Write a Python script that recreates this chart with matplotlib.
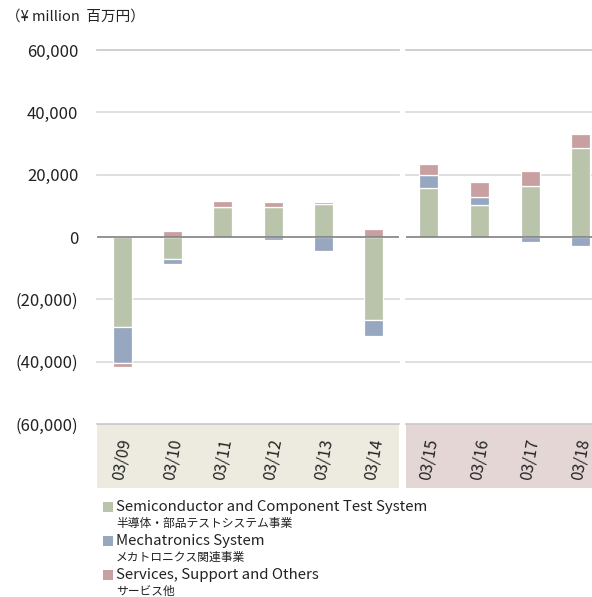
import numpy as np
import matplotlib
matplotlib.use("Agg")
import matplotlib.pyplot as plt
from matplotlib.patches import Rectangle
import matplotlib.transforms as mtransforms

plt.rcParams["font.family"] = ["Noto Sans CJK JP", "DejaVu Sans"]

# data (¥ million)
years_left = ["03/09", "03/10", "03/11", "03/12", "03/13", "03/14"]
years_right = ["03/15", "03/16", "03/17", "03/18"]
semi = [-28900, -7000, 9600, 9600, 10700, -26700, 15600, 10200, 16400, 28600]
mech = [-11600, -1700, 0, -1100, -4500, -5200, 4200, 2600, -1500, -2800]
serv = [-1100, 1800, 2000, 1600, 500, 2700, 3500, 5000, 4800, 4300]

series_en = ["Semiconductor and Component Test System", "Mechatronics System",
             "Services, Support and Others"]
series_jp = ["半導体・部品テストシステム事業", "メカトロニクス関連事業", "サービス他"]
colors = ["#BAC4AB", "#97A7C0", "#C9A0A1"]
yticks = [60000, 40000, 20000, 0, -20000, -40000, -60000]

W, H = 592, 597
fig = plt.figure(figsize=(W / 100, H / 100), dpi=100)

y_top, y_bot = 50, 424
band_bot = 488
ax_l = fig.add_axes([97 / W, 1 - y_bot / H, 302 / W, (y_bot - y_top) / H])
ax_r = fig.add_axes([406 / W, 1 - y_bot / H, 186 / W, (y_bot - y_top) / H])


def draw(ax, idx, labels, band_color):
    pos_bottom = np.zeros(len(idx))
    neg_bottom = np.zeros(len(idx))
    x = np.arange(len(idx))
    for vals, c in zip([semi, mech, serv], colors):
        v = np.array([vals[i] for i in idx], dtype=float)
        bottom = np.where(v >= 0, pos_bottom, neg_bottom)
        ax.bar(x, v, bottom=bottom, width=0.38, color=c, edgecolor="white",
               linewidth=0.9, zorder=3)
        pos_bottom += np.where(v >= 0, v, 0)
        neg_bottom += np.where(v < 0, v, 0)
    ax.set_ylim(-60000, 60000)
    for t in yticks:
        if t == 0:
            ax.axhline(t, color="#808080", lw=1.2, zorder=4)
        else:
            ax.axhline(t, color="#C8C8C8" if t in (60000, -60000) else "#D9D9D9",
                       lw=1.2, zorder=1, clip_on=False)
    for s in ax.spines.values():
        s.set_visible(False)
    ax.set_xticks([])
    ax.tick_params(axis="y", length=0)
    # label band under the plot
    band_h = (band_bot - y_bot) / (y_bot - y_top)
    ax.add_patch(Rectangle((0, -band_h), 1, band_h, transform=ax.transAxes,
                           facecolor=band_color, edgecolor="none",
                           clip_on=False, zorder=0))
    trans = mtransforms.blended_transform_factory(ax.transData, ax.transAxes)
    for i, lab in enumerate(labels):
        ax.text(i, -band_h / 2 - 0.008, lab, transform=trans, rotation=80,
                style="italic", fontsize=11.5, ha="center", va="center",
                color="#222222")


draw(ax_l, range(0, 6), years_left, "#EDEBE0")
ax_l.set_xlim(-0.5, 5.5)
draw(ax_r, range(6, 10), years_right, "#E5D6D6")
ax_r.set_xlim(-0.45, 3.22)

ax_l.set_yticks(yticks)
ax_l.set_yticklabels([f"{t:,}" if t >= 0 else f"({-t:,})" for t in yticks],
                     fontsize=12, color="#222222")
ax_l.tick_params(axis="y", pad=13.5)
ax_r.set_yticks([])

fig.text(6 / W, 1 - 17 / H, "（¥ million  百万円）", fontsize=10.5,
         va="center", ha="left", color="#222222")

# legend
rows = [507, 541, 575]
for y, c, en, jp in zip(rows, colors, series_en, series_jp):
    fig.patches.append(Rectangle((103 / W, 1 - (y + 5) / H), 10 / W, 10 / H,
                                 transform=fig.transFigure, facecolor=c,
                                 edgecolor="none"))
    fig.text(116 / W, 1 - y / H, en, fontsize=10.8, va="center", ha="left",
             color="#222222")
    fig.text(116 / W, 1 - (y + 16) / H, jp, fontsize=8.5, va="center",
             ha="left", color="#222222")

fig.savefig("out.png", dpi=100)
